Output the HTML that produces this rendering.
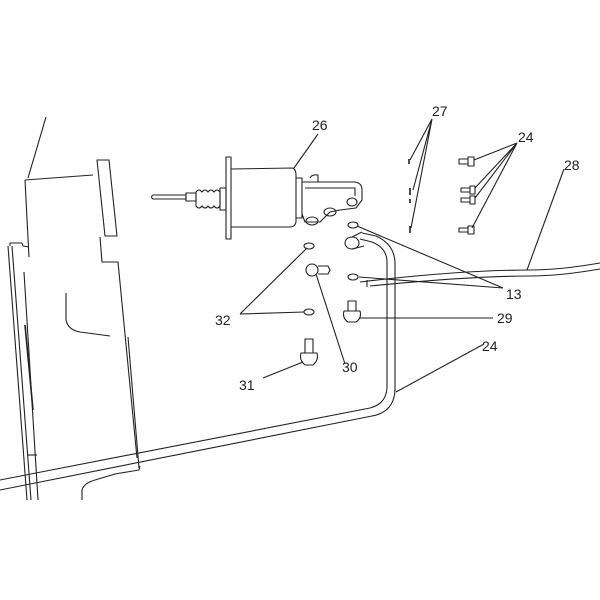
<!DOCTYPE html>
<html><head><meta charset="utf-8"><style>
html,body{margin:0;padding:0;background:#fff;}
svg{display:block;}
text{font-family:"Liberation Sans",sans-serif;font-size:14px;fill:#222;}
</style></head><body>
<svg width="600" height="600" viewBox="0 0 600 600" xmlns="http://www.w3.org/2000/svg">
<g fill="none" stroke="#222" stroke-width="1.1" stroke-linejoin="round">
<path d="M46,117 L28,178"/>
<path d="M25,180 L93,175"/>
<path d="M25,180 L29,257"/>
<path d="M97,160 L109,160 L117,236 L105,236 Z"/>
<path d="M100,237 L102,262 L118,262 L137,458"/>
<path d="M128,337 L139,468"/>
<path d="M10,246 L10,243 L22,243 L23,246 L29,247"/>
<path d="M8,246 L27,500"/>
<path d="M12,246 L31,500"/>
<path d="M24,272 L38,500"/>
<path d="M25,325 L33,410" stroke-width="1.6"/>
<path d="M27,455 L37,455"/>
<path d="M66,293 L66,320 Q68,330 80,332 L110,336"/>
<path d="M82,500 L82,490 Q84,483 95,480 L115,474 L139,470 L140,466"/>
<path d="M0,480 L370,408 Q386,404 387,388 L387,262 Q387,248 372,242 L360,239"/>
<path d="M0,490 L372,416 Q394,412 395,390 L395,262 Q394,244 376,236 L362,233"/>
<ellipse cx="352" cy="243" rx="7" ry="6"/>
<path d="M352,237 L362,232 M352,249 L364,246"/>
<path d="M600,263 Q560,270 530,270 Q460,270 360,282"/>
<path d="M600,269 Q560,276 530,276 Q470,276 370,286"/>
<path d="M367,280 L367,287"/>
<path d="M153,195 L186,195 L186,199 L153,199 Q150,197 153,195"/>
<path d="M186,193 L196,193 L196,201 L186,201 Z"/>
<path d="M196,192 Q199,188 202,192 Q205,188 208,192 Q211,188 214,192 Q217,188 220,192 L220,206 Q217,210 214,206 Q211,210 208,206 Q205,210 202,206 Q199,210 196,206 Z"/>
<path d="M220,188 L226,188 L226,210 L220,210 Z"/>
<path d="M226,157 L231,157 L231,239 L226,239 Z"/>
<path d="M231,169 L293,168 Q296,170 296,175 L296,222 Q295,227 290,227 L231,227"/>
<path d="M296,178 L302,178 L302,218 L296,218"/>
<path d="M302,182 L355,182 Q362,183 362,190 L362,200 L356,208 L340,210 L330,212 L320,222 L305,222 L302,214"/>
<path d="M305,188 L355,188 L355,196"/>
<ellipse cx="352" cy="202" rx="5" ry="4"/>
<ellipse cx="312" cy="221" rx="6" ry="4"/>
<ellipse cx="330" cy="212" rx="6" ry="4"/>
<path d="M310,178 Q312,174 318,175 L318,182"/>
<ellipse cx="353" cy="225" rx="5" ry="3"/>
<ellipse cx="309" cy="246" rx="5" ry="3"/>
<ellipse cx="353" cy="277" rx="5" ry="3"/>
<ellipse cx="309" cy="312" rx="5" ry="3"/>
<ellipse cx="312" cy="270" rx="6" ry="6"/>
<path d="M318,266 L328,266 L330,270 L328,274 L318,274"/>
<path d="M348,301 L356,301 L356,311 L348,311 Z"/>
<path d="M344,311 L360,311 Q362,318 356,322 L348,322 Q342,318 344,311 Z"/>
<path d="M305,339 L313,339 L313,353 L305,353 Z"/>
<path d="M301,353 L317,353 Q319,360 313,365 L305,365 Q299,360 301,353 Z"/>
<path d="M409,159 L409,164 M410,188 L410,195 M410,199 L410,203 M410,226 L410,233" stroke-width="1.6"/>
<path d="M459,159 L468,159 L468,164 L459,164 Z M468,157 L474,157 L474,166 L468,166 Z"/>
<path d="M461,188 L470,188 L470,192 L461,192 Z M470,186 L475,186 L475,194 L470,194 Z"/>
<path d="M461,198 L470,198 L470,202 L461,202 Z M470,196 L475,196 L475,204 L470,204 Z"/>
<path d="M459,228 L468,228 L468,232 L459,232 Z M468,226 L474,226 L474,234 L468,234 Z"/>
<path d="M318,134 L294,168"/>
<path d="M432,119 L410,160 M432,119 L413,190 M432,119 L411,228"/>
<path d="M517,143 L474,160 M517,143 L475,188 M517,143 L475,198 M517,143 L472,228"/>
<path d="M564,169 L527,270"/>
<path d="M503,288 L357,226 M503,288 L359,277"/>
<path d="M240,314 L307,248 M240,314 L304,312"/>
<path d="M345,364 L316,274"/>
<path d="M493,318 L360,318"/>
<path d="M263,378 L303,362"/>
<path d="M484,344 L396,392"/>
</g>
<text x="312" y="130">26</text>
<text x="432" y="116">27</text>
<text x="518" y="142">24</text>
<text x="564" y="170">28</text>
<text x="506" y="299">13</text>
<text x="215" y="325">32</text>
<text x="497" y="323">29</text>
<text x="342" y="372">30</text>
<text x="239" y="390">31</text>
<text x="482" y="351">24</text>
</svg>
</body></html>
